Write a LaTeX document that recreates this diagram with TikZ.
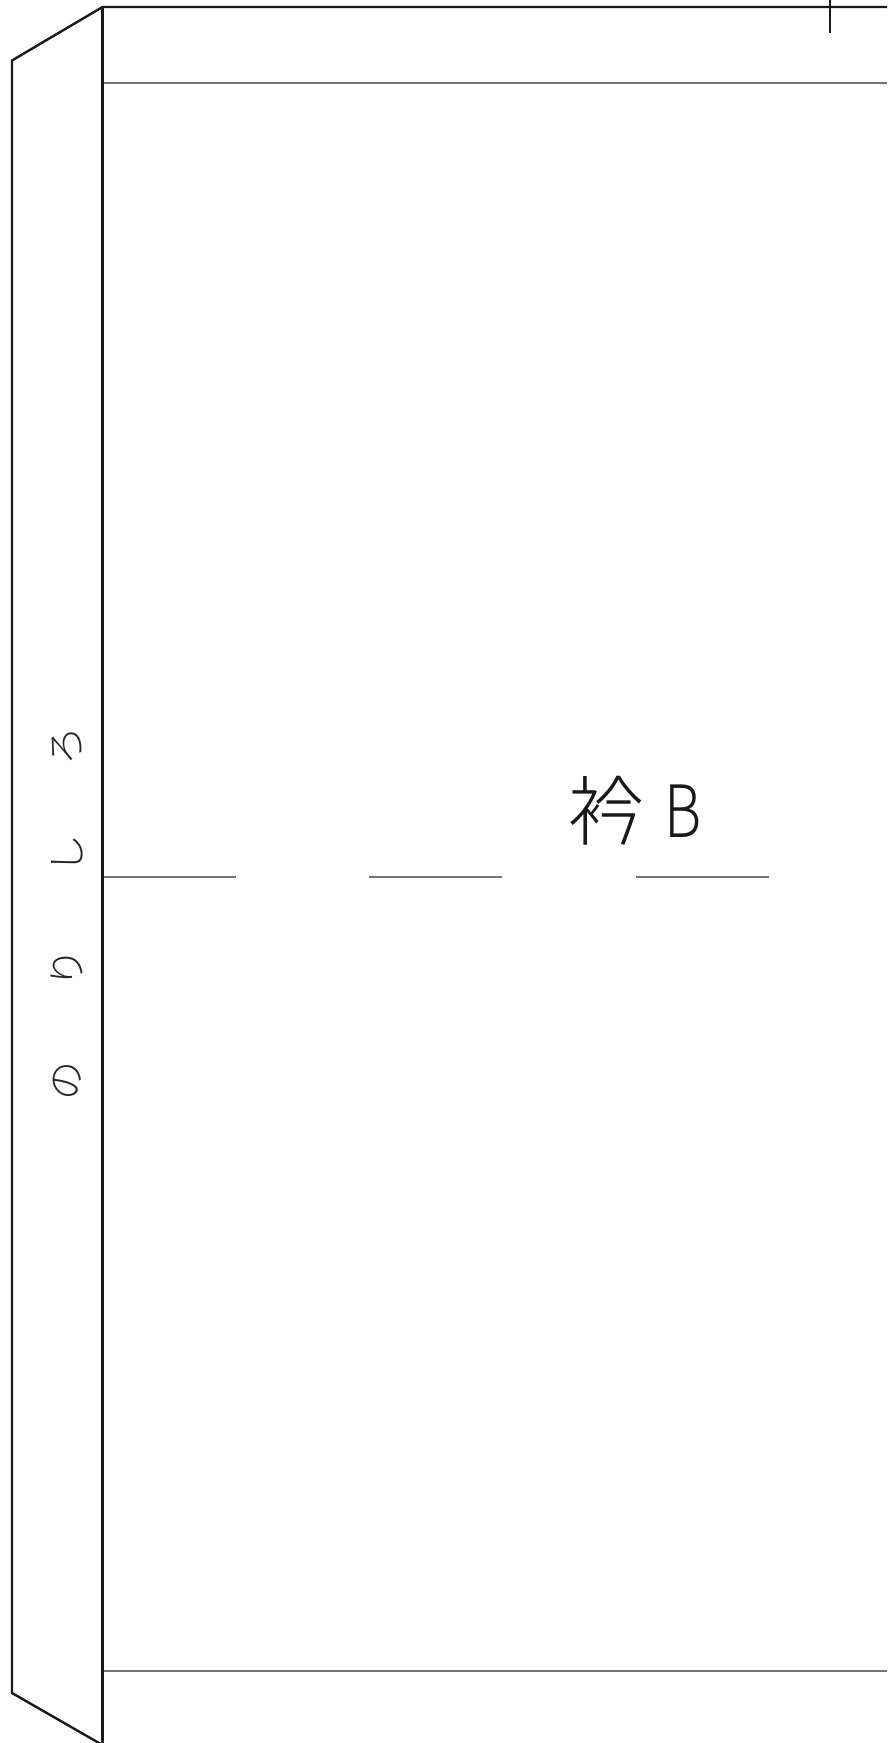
\documentclass[tikz,border=0pt]{standalone}
\usepackage{fontspec}
\newfontfamily\jpfont{Noto Sans CJK JP Light}
\tikzset{
  heavy/.style={line width=2.4pt,draw=black!90},
  thin gray/.style={line width=1.2pt,draw=black!55},
  kana/.style={font=\jpfont\fontsize{39}{39}\selectfont,rotate=90,inner sep=0pt,text=black!85},
  title/.style={font=\jpfont\fontsize{76}{76}\selectfont,inner sep=0pt,text=black!90}
}
\begin{document}
\begin{tikzpicture}[x=1pt,y=-1pt]
\useasboundingbox (0,0) rectangle (887,1743);
\clip (0,0) rectangle (887,1743);
\fill[white] (0,0) rectangle (887,1743);
\draw[thin gray] (103,83) -- (887,83);
\draw[thin gray] (103,1671) -- (887,1671);
\draw[thin gray] (103,877) -- (236,877);
\draw[thin gray] (369,877) -- (502,877);
\draw[thin gray] (636,877) -- (769,877);
\draw[heavy,line join=miter] (102.5,1745) -- (12,1693) -- (12,60.5) -- (102.5,7) -- (887,7);
\draw[heavy] (102.5,7) -- (102.5,1743);
\draw[heavy] (830,0) -- (830,33);
\node[kana] (no) at (67,1081) {の};
\node[kana] (ri) at (67,968) {り};
\node[kana] (shi) at (67,854) {し};
\node[kana] (ro) at (67,746) {ろ};
\node[title] (label) at (635,811) {衿\hspace{20pt}\raisebox{2pt}{\scalebox{0.76}[0.95]{B}}};
\end{tikzpicture}
\end{document}
